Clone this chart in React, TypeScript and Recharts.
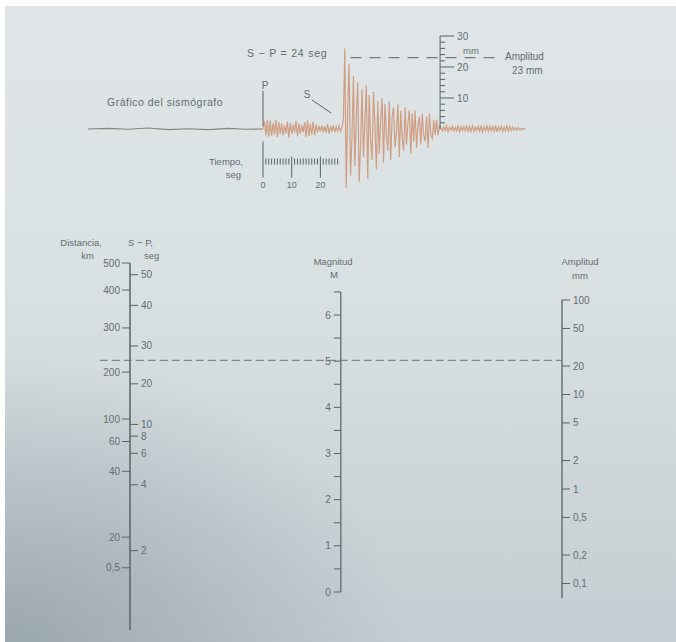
import { ComposedChart, Line, Scatter, XAxis, YAxis } from "recharts";

const W = 676;
const H = 642;
const INK = "#5a6266";
const TEXT = "#646c70";
const TRACE = "#d09e83";
const FONT = '"Liberation Sans", Arial, sans-serif';

// ---- nomogram scales ----
// distance (km) and S-P (s) ticks on the left scale, placed by their -log A0 value
const distanceTicks = [
  { label: "500", q: 4.73 },
  { label: "400", q: 4.43 },
  { label: "300", q: 4.01 },
  { label: "200", q: 3.52 },
  { label: "100", q: 3.0 },
  { label: "60", q: 2.75 },
  { label: "40", q: 2.42 },
  { label: "20", q: 1.69 },
  { label: "0,5", q: 1.35 },
];
const spTicks = [
  { label: "50", q: 4.6 },
  { label: "40", q: 4.26 },
  { label: "30", q: 3.81 },
  { label: "20", q: 3.39 },
  { label: "10", q: 2.94 },
  { label: "8", q: 2.81 },
  { label: "6", q: 2.62 },
  { label: "4", q: 2.27 },
  { label: "2", q: 1.54 },
];
const leftScaleSpan = [4.73, 0.66];
const magnitudeTicks = [0, 0.5, 1, 1.5, 2, 2.5, 3, 3.5, 4, 4.5, 5, 5.5, 6, 6.5];
const magnitudeLabels = [0, 1, 2, 3, 4, 5, 6];
const amplitudeTicks = [100, 50, 20, 10, 5, 2, 1, 0.5, 0.2, 0.1];
const amplitudeSpan = [100, 0.07];
const readingAmplitude = 23;

// ---- seismogram (mm, sampled every 0.5 s) ----
const preP = [
  { t: -61, mm: 0 }, { t: -54, mm: 0.2 }, { t: -47, mm: -0.1 }, { t: -40, mm: 0.3 },
  { t: -33, mm: -0.2 }, { t: -26, mm: 0.1 }, { t: -19, mm: -0.2 }, { t: -12, mm: 0.2 },
  { t: -6, mm: -0.1 }, { t: 0, mm: 0 },
];
const pPhase = [
  0, 2.5, -2, 3, -2.5, 2.8, -2.2, 2, -1.8, 3,
  -2.6, 2.2, -1.5, 1.8, -2, 1.2, -1.4, 2.4, -2.8, 2,
  -1.6, 1.4, -1.2, 2.6, -2.4, 1.8, -1.5, 1.2, -1, 2.2,
  -2.6, 2.8, -2.2, 1.6, -1.8, 2.4, -2, 1.4, -1.2, 1,
  -0.8, 1.2, -1, 0.8, -1.2, 1.6, -1.4, 1, -0.8, 1.2,
  -1, 0.8, -0.6, 1, -0.8, 0.6,
];
const sPhase = [
  3, 26, -19, 6, 21, -15, -3, 17, -12, 4,
  15, -17, -5, 13, -9, 2, 14, -16, 11, -4,
  -10, 12, 1, -13, 9, -8, 3, 10, -11, 8,
  -2, -7, 9, -10, 4, 7, -6, -1, 8, -9,
  6, -3, -7, 7, -5, 2, 6, -8, 5, -4,
  6, -6, 1, 4, -5, 5, -2, -4, 4, -6,
  5, -2, -3, 3, -2, 3, -2, 1,
];
const coda = [
  0.4, -0.6, 0.8, -0.5, 1, -0.8, 0.6, -0.4, 0.9, -0.7,
  0.5, -0.6, 1.1, -0.9, 0.7, -0.5, 0.8, -0.6, 1.2, -1,
  0.8, -0.7, 1, -0.8, 0.6, -0.5, 0.9, -0.7, 1.1, -0.9,
  0.7, -0.6, 1, -0.8, 0.9, -0.6, 0.8, -0.7, 1.2, -0.9,
  0.7, -0.5, 0.9, -0.8, 0.6, -0.6, 1, -0.7, 0.8, -0.5,
  0.6, -0.4, 0.5, -0.4, 0.4, -0.3, 0.3, -0.2, 0.2, 0,
];
const timeTicks = [0, 1, 2, 3, 4, 5, 6, 7, 8, 9, 10, 11, 12, 13, 14, 15, 16, 17, 18, 19, 20, 21, 22, 23, 24, 25, 26];
const timeLabels = [0, 10, 20];
const rulerTicks = [2, 4, 6, 8, 10, 12, 14, 16, 18, 20, 22, 24, 26, 28, 30];
const rulerLabels = [10, 20, 30];
const traceAmplitude = 23;

// ---- layout ----
const lin = (v0: number, p0: number, v1: number, p1: number) => (p: number) =>
  v0 + ((p - p0) * (v1 - v0)) / (p1 - p0);
const xDom = (f: (p: number) => number) => [f(0), f(W)];
const yDom = (f: (p: number) => number) => [f(H), f(0)];

const waveX = xDom(lin(0, 263, 10, 291.7));
const mmY = yDom(lin(0, 129, 10, 98));
const nomoX = xDom(lin(0, 130, 1, 562));
const qY = yDom(lin(3, 419, 4.73, 263));
const mY = yDom(lin(0, 592, 6, 315));
const lg = lin(0, 489, 2, 300);
const aY = [10 ** lg(H), 10 ** lg(0)];

const MAG_POS = 0.488;
const RULER_T = 61.7;

const sampled = (start: number, vals: number[]) => vals.map((mm, i) => ({ t: start + i * 0.5, mm }));
const eventTrace = [...sampled(0, pPhase), ...sampled(28, sPhase), ...sampled(62, coda)];

const comma = (v: number) => String(v).replace(".", ",");

const txt = { fontFamily: FONT, fontSize: 10, fill: TEXT } as const;

const sideTick =
  (side: "left" | "right", len: number, gap: number) =>
  (p: any) => {
    const { cx, cy, payload } = p;
    const dir = side === "left" ? -1 : 1;
    return (
      <g>
        <line x1={cx} y1={cy} x2={cx + dir * (payload.len ?? len)} y2={cy} stroke={INK} strokeWidth={1} />
        {payload.label ? (
          <text
            x={cx + dir * ((payload.len ?? len) + gap)}
            y={cy}
            dy="0.35em"
            textAnchor={side === "left" ? "end" : "start"}
            {...txt}
          >
            {payload.label}
          </text>
        ) : null}
      </g>
    );
  };

const downTick = (p: any) => {
  const { cx, cy, payload } = p;
  const major = timeLabels.includes(payload.t);
  return (
    <g>
      <line x1={cx} y1={cy - (payload.t === 0 ? 20 : major ? 5 : 3)} x2={cx} y2={cy + (major ? 16 : 3)} stroke={INK} strokeWidth={1} />
      {major ? (
        <text x={cx} y={cy + 26} textAnchor="middle" {...txt} fontSize={9}>
          {payload.t}
        </text>
      ) : null}
    </g>
  );
};

export default function App() {
  const distRows = distanceTicks.map((d) => ({ ...d, pos: 0 }));
  const spRows = spTicks.map((d) => ({ ...d, pos: 0 }));
  const magRows = magnitudeTicks.map((m) => ({ pos: MAG_POS, m, label: magnitudeLabels.includes(m) ? String(m) : "" }));
  const ampRows = amplitudeTicks.map((a) => ({ pos: 1, a, label: comma(a) }));
  const timeRows = timeTicks.map((t) => ({ t, mm: -10.5 }));
  const rulerRows = rulerTicks.map((mm) => ({
    t: RULER_T,
    mm,
    len: rulerLabels.includes(mm) ? 14 : mm % 5 === 0 ? 9 : 5,
    label: rulerLabels.includes(mm) ? String(mm) : "",
  }));

  return (
    <div style={{ position: "absolute", left: 0, top: 0, width: W, height: H, background: "#ffffff" }}>
      <div
        style={{
          position: "absolute",
          left: 5,
          top: 6,
          right: 0,
          bottom: 0,
          background:
            "radial-gradient(ellipse 60% 45% at 0% 100%, rgba(120,136,144,0.55), rgba(120,136,144,0) 100%), linear-gradient(to bottom, #e0e6e7 0%, #d9e0e2 45%, #c4cdd1 100%)",
        }}
      />
      <div style={{ position: "absolute", left: 0, top: 0 }}>
        <ComposedChart width={W} height={H} margin={{ top: 0, right: 0, bottom: 0, left: 0 }}>
          <XAxis xAxisId="wave" dataKey="t" type="number" domain={waveX} allowDataOverflow hide />
          <XAxis xAxisId="nomo" dataKey="pos" type="number" domain={nomoX} allowDataOverflow hide />
          <YAxis yAxisId="mm" dataKey="mm" type="number" domain={mmY} allowDataOverflow hide />
          <YAxis yAxisId="q" dataKey="q" type="number" domain={qY} allowDataOverflow hide />
          <YAxis yAxisId="m" dataKey="m" type="number" domain={mY} allowDataOverflow hide />
          <YAxis yAxisId="a" dataKey="a" type="number" scale="log" domain={aY} allowDataOverflow hide />

          {/* seismogram */}
          <Line xAxisId="wave" yAxisId="mm" data={preP} dataKey="mm" stroke="#8a847f" strokeWidth={1.1} dot={false} activeDot={false} isAnimationActive={false} />
          <Line xAxisId="wave" yAxisId="mm" data={eventTrace} dataKey="mm" stroke={TRACE} strokeWidth={1.2} dot={false} activeDot={false} isAnimationActive={false} />
          <Line xAxisId="wave" yAxisId="mm" data={[{ t: 0, mm: 12.3 }, { t: 0, mm: 1 }]} dataKey="mm" stroke={INK} strokeWidth={1} dot={false} activeDot={false} isAnimationActive={false} />
          <Line xAxisId="wave" yAxisId="mm" data={[{ t: 17, mm: 9.4 }, { t: 23.7, mm: 5.2 }]} dataKey="mm" stroke={INK} strokeWidth={1} dot={false} activeDot={false} isAnimationActive={false} />
          <Line xAxisId="wave" yAxisId="mm" data={[{ t: RULER_T, mm: 0 }, { t: RULER_T, mm: 30 }]} dataKey="mm" stroke={INK} strokeWidth={1} dot={false} activeDot={false} isAnimationActive={false} />
          <Line xAxisId="wave" yAxisId="mm" data={[{ t: 30.5, mm: traceAmplitude }, { t: 81.5, mm: traceAmplitude }]} dataKey="mm" stroke={INK} strokeWidth={1} strokeDasharray="11 8" dot={false} activeDot={false} isAnimationActive={false} />
          <Scatter xAxisId="wave" yAxisId="mm" data={timeRows} shape={downTick} isAnimationActive={false} />
          <Scatter xAxisId="wave" yAxisId="mm" data={rulerRows} shape={sideTick("right", 5, 3)} isAnimationActive={false} />

          {/* nomogram axes */}
          <Line xAxisId="nomo" yAxisId="q" data={leftScaleSpan.map((q) => ({ pos: 0, q }))} dataKey="q" stroke={INK} strokeWidth={1.5} dot={false} activeDot={false} isAnimationActive={false} />
          <Line xAxisId="nomo" yAxisId="m" data={[{ pos: MAG_POS, m: 0 }, { pos: MAG_POS, m: 6.5 }]} dataKey="m" stroke={INK} strokeWidth={1.2} dot={false} activeDot={false} isAnimationActive={false} />
          <Line xAxisId="nomo" yAxisId="a" data={amplitudeSpan.map((a) => ({ pos: 1, a }))} dataKey="a" stroke={INK} strokeWidth={1.3} dot={false} activeDot={false} isAnimationActive={false} />
          <Scatter xAxisId="nomo" yAxisId="q" data={distRows} shape={sideTick("left", 8, 2)} isAnimationActive={false} />
          <Scatter xAxisId="nomo" yAxisId="q" data={spRows} shape={sideTick("right", 8, 3)} isAnimationActive={false} />
          <Scatter xAxisId="nomo" yAxisId="m" data={magRows} shape={sideTick("left", 7, 3)} isAnimationActive={false} />
          <Scatter xAxisId="nomo" yAxisId="a" data={ampRows} shape={sideTick("right", 8, 3)} isAnimationActive={false} />
          <Line xAxisId="nomo" yAxisId="a" data={[{ pos: -0.07, a: readingAmplitude }, { pos: 1, a: readingAmplitude }]} dataKey="a" stroke="#6a7276" strokeWidth={1} strokeDasharray="8 4" dot={false} activeDot={false} isAnimationActive={false} />

          {/* titles */}
          <text x={107} y={102} dy="0.35em" {...txt} fontSize={10.5} letterSpacing={0.5}>Gráfico del sismógrafo</text>
          <text x={247} y={53} dy="0.35em" {...txt} fontSize={10.5} letterSpacing={0.8}>S − P = 24 seg</text>
          <text x={265} y={85} dy="0.35em" {...txt} fontSize={10} textAnchor="middle">P</text>
          <text x={307} y={94} dy="0.35em" {...txt} fontSize={10} textAnchor="middle">S</text>
          <text x={243} y={162} dy="0.35em" {...txt} fontSize={9.5} textAnchor="end">Tiempo,</text>
          <text x={241} y={175} dy="0.35em" {...txt} fontSize={9.5} textAnchor="end">seg</text>
          <text x={463} y={51} dy="0.35em" {...txt} fontSize={9.5}>mm</text>
          <text x={505} y={56} dy="0.35em" {...txt} fontSize={10}>Amplitud</text>
          <text x={512} y={70} dy="0.35em" {...txt} fontSize={10}>23 mm</text>

          <text x={102} y={243} dy="0.35em" {...txt} fontSize={9.5} textAnchor="end">Distancia,</text>
          <text x={94} y={256} dy="0.35em" {...txt} fontSize={9.5} textAnchor="end">km</text>
          <text x={128} y={243} dy="0.35em" {...txt} fontSize={9.5}>S − P,</text>
          <text x={144} y={256} dy="0.35em" {...txt} fontSize={9.5}>seg</text>
          <text x={333} y={262} dy="0.35em" {...txt} fontSize={9.5} textAnchor="middle">Magnitud</text>
          <text x={334} y={275} dy="0.35em" {...txt} fontSize={9.5} textAnchor="middle">M</text>
          <text x={580} y={262} dy="0.35em" {...txt} fontSize={9.5} textAnchor="middle">Amplitud</text>
          <text x={580} y={276} dy="0.35em" {...txt} fontSize={9.5} textAnchor="middle">mm</text>
        </ComposedChart>
      </div>
    </div>
  );
}
